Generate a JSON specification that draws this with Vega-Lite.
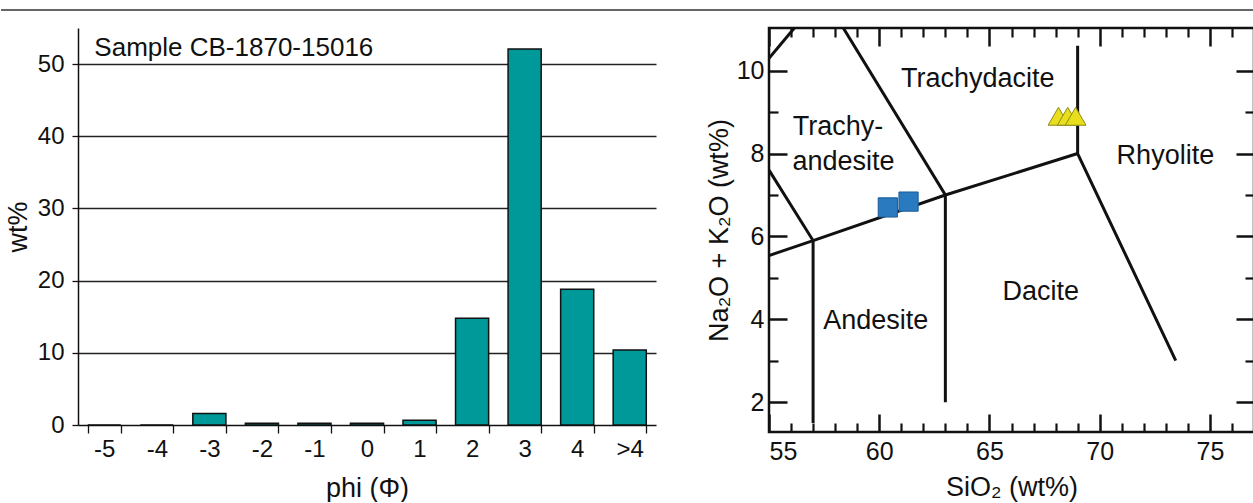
{
  "$schema": "https://vega.github.io/schema/vega-lite/v6.json",
  "padding": {"left": 0, "top": 9, "right": 0, "bottom": 0},
  "background": "white",
  "config": {
    "font": "Liberation Sans",
    "view": {"stroke": null},
    "axis": {"labelColor": "#111", "titleColor": "#111", "titleFontWeight": "normal", "labelFont": "Liberation Sans", "titleFont": "Liberation Sans"}
  },
  "spacing": 14,
  "vconcat": [
    {
      "width": 1176,
      "height": 1,
      "data": {"values": [{"a": -0.0655, "b": 1}]},
      "mark": {"type": "rule", "color": "#333", "strokeWidth": 1.5, "clip": false},
      "encoding": {
        "x": {"field": "a", "type": "quantitative", "scale": {"domain": [0, 1], "nice": false, "zero": false}, "axis": null},
        "x2": {"field": "b"},
        "y": {"datum": 1, "type": "quantitative", "scale": {"domain": [0, 1]}, "axis": null}
      }
    },
    {
      "spacing": 47,
      "hconcat": [
        {
          "width": 578,
          "height": 397,
          "data": {"values": [
            {"phi": "-5", "wt": 0},
            {"phi": "-4", "wt": 0},
            {"phi": "-3", "wt": 1.6},
            {"phi": "-2", "wt": 0.25},
            {"phi": "-1", "wt": 0.25},
            {"phi": "0", "wt": 0.25},
            {"phi": "1", "wt": 0.65},
            {"phi": "2", "wt": 14.8},
            {"phi": "3", "wt": 52.1},
            {"phi": "4", "wt": 18.8},
            {"phi": ">4", "wt": 10.4}
          ]},
          "layer": [
            {
              "mark": {"type": "bar", "fill": "#009999", "stroke": "#111", "strokeWidth": 1.5},
              "encoding": {
                "x": {
                  "field": "phi", "type": "ordinal",
                  "scale": {"domain": ["-5", "-4", "-3", "-2", "-1", "0", "1", "2", "3", "4", ">4"], "paddingInner": 0.37, "paddingOuter": 0.185},
                  "axis": {"title": "phi (Φ)", "labelAngle": 0, "tickBand": "extent", "tickSize": 8, "tickColor": "#111", "tickWidth": 1.3, "domainColor": "#111", "domainWidth": 1.5, "labelFontSize": 24, "labelPadding": 4, "titleFontSize": 27, "titlePadding": 14}
                },
                "y": {
                  "field": "wt", "type": "quantitative",
                  "scale": {"domain": [0, 55], "nice": false},
                  "axis": {
                    "title": "wt%",
                    "values": [0, 5, 10, 15, 20, 25, 30, 35, 40, 45, 50, 55],
                    "labelExpr": "datum.value % 10 === 0 && datum.value <= 50 ? datum.label : ''",
                    "grid": true,
                    "gridColor": "#222",
                    "gridWidth": 1.3,
                    "gridOpacity": {"condition": {"test": "datum.value % 10 === 0 && datum.value > 0 && datum.value <= 50", "value": 1}, "value": 0},
                    "tickSize": 6, "tickColor": "#111", "tickWidth": 1.3,
                    "domainColor": "#111", "domainWidth": 1.5,
                    "labelFontSize": 24, "labelPadding": 8,
                    "titleFontSize": 27, "titlePadding": 5
                  }
                }
              }
            },
            {
              "data": {"values": [{"t": "Sample CB-1870-15016", "phi": "-5", "wt": 52.2}]},
              "mark": {"type": "text", "align": "left", "baseline": "middle", "fontSize": 26, "color": "#111"},
              "encoding": {
                "x": {"field": "phi", "type": "ordinal", "bandPosition": 0.2},
                "y": {"field": "wt", "type": "quantitative"},
                "text": {"field": "t"}
              }
            }
          ]
        },
        {
          "width": 485,
          "height": 404,
          "view": {"stroke": "#111", "strokeWidth": 2.5},
          "resolve": {"axis": {"x": "independent", "y": "independent"}},
          "layer": [
            {
              "data": {"values": [
                {"seg": "A", "o": 1, "x": 55, "y": 5.54},
                {"seg": "A", "o": 2, "x": 57, "y": 5.9},
                {"seg": "A", "o": 3, "x": 63, "y": 7.0},
                {"seg": "A", "o": 4, "x": 69, "y": 8.0},
                {"seg": "B", "o": 1, "x": 55, "y": 7.6},
                {"seg": "B", "o": 2, "x": 57, "y": 5.9},
                {"seg": "B", "o": 3, "x": 57, "y": 1.5},
                {"seg": "C", "o": 1, "x": 58.37, "y": 11.03},
                {"seg": "C", "o": 2, "x": 63, "y": 7.0},
                {"seg": "C", "o": 3, "x": 63, "y": 2.0},
                {"seg": "D", "o": 1, "x": 69, "y": 10.6},
                {"seg": "D", "o": 2, "x": 69, "y": 8.0},
                {"seg": "D", "o": 3, "x": 73.45, "y": 3.0},
                {"seg": "E", "o": 1, "x": 55, "y": 10.3},
                {"seg": "E", "o": 2, "x": 56.15, "y": 11.03}
              ]},
              "mark": {"type": "line", "color": "#111", "strokeWidth": 3, "clip": true},
              "encoding": {
                "x": {
                  "field": "x", "type": "quantitative",
                  "scale": {"domain": [55, 77], "nice": false, "zero": false},
                  "axis": {"orient": "bottom", "title": "SiO₂ (wt%)", "values": [55, 60, 65, 70, 75], "domain": false, "grid": false, "tickSize": -18, "tickWidth": 2.5, "tickColor": "#111", "labelFontSize": 25, "labelPadding": 25, "titleFontSize": 27, "titlePadding": 10}
                },
                "y": {
                  "field": "y", "type": "quantitative",
                  "scale": {"domain": [1.28, 11.03], "nice": false, "zero": false},
                  "axis": {"orient": "left", "title": "Na₂O + K₂O (wt%)", "values": [2, 4, 6, 8, 10], "domain": false, "grid": false, "tickSize": -18, "tickWidth": 2.5, "tickColor": "#111", "labelFontSize": 25, "labelPadding": 23, "titleFontSize": 27, "titlePadding": 3}
                },
                "detail": {"field": "seg"},
                "order": {"field": "o"}
              }
            },
            {
              "data": {"values": [
                {"x": 60.39, "y": 6.70},
                {"x": 61.33, "y": 6.84}
              ]},
              "mark": {"type": "point", "shape": "square", "filled": true, "size": 370, "fill": "#2a7ac0", "stroke": "#1d5d96", "strokeWidth": 1, "opacity": 1},
              "encoding": {
                "x": {"field": "x", "type": "quantitative", "axis": {"orient": "bottom", "title": null, "values": [56, 57, 58, 59, 61, 62, 63, 64, 66, 67, 68, 69, 71, 72, 73, 74, 76], "labels": false, "domain": false, "grid": false, "tickSize": -9, "tickWidth": 2.2, "tickColor": "#111"}},
                "y": {"field": "y", "type": "quantitative", "axis": {"orient": "left", "title": null, "values": [3, 5, 7, 9], "labels": false, "domain": false, "grid": false, "tickSize": -9, "tickWidth": 2.2, "tickColor": "#111"}}
              }
            },
            {
              "data": {"values": [
                {"x": 68.13, "y": 8.9},
                {"x": 68.55, "y": 8.9},
                {"x": 68.91, "y": 8.9}
              ]},
              "mark": {"type": "point", "shape": "triangle-up", "filled": true, "size": 430, "fill": "#e8de1c", "stroke": "#8c8a1e", "strokeWidth": 1, "opacity": 1},
              "encoding": {
                "x": {"field": "x", "type": "quantitative", "axis": {"orient": "top", "title": null, "values": [55, 60, 65, 70, 75], "labels": false, "domain": false, "grid": false, "tickSize": -18, "tickWidth": 2.5, "tickColor": "#111"}},
                "y": {"field": "y", "type": "quantitative", "axis": {"orient": "right", "title": null, "values": [2, 4, 6, 8, 10], "labels": false, "domain": false, "grid": false, "tickSize": -18, "tickWidth": 2.5, "tickColor": "#111"}}
              }
            },
            {
              "data": {"values": [
                {"t": "Trachydacite", "x": 64.47, "y": 9.79},
                {"t": "Trachy-", "x": 58.13, "y": 8.65},
                {"t": "andesite", "x": 58.38, "y": 7.8},
                {"t": "Rhyolite", "x": 72.98, "y": 7.95},
                {"t": "Dacite", "x": 67.33, "y": 4.65},
                {"t": "Andesite", "x": 59.84, "y": 3.96}
              ]},
              "mark": {"type": "text", "align": "center", "baseline": "middle", "fontSize": 27, "color": "#111"},
              "encoding": {
                "x": {"field": "x", "type": "quantitative", "axis": {"orient": "top", "title": null, "values": [56, 57, 58, 59, 61, 62, 63, 64, 66, 67, 68, 69, 71, 72, 73, 74, 76], "labels": false, "domain": false, "grid": false, "tickSize": -9, "tickWidth": 2.2, "tickColor": "#111"}},
                "y": {"field": "y", "type": "quantitative", "axis": {"orient": "right", "title": null, "values": [3, 5, 7, 9], "labels": false, "domain": false, "grid": false, "tickSize": -9, "tickWidth": 2.2, "tickColor": "#111"}},
                "text": {"field": "t"}
              }
            }
          ]
        }
      ]
    }
  ]
}
